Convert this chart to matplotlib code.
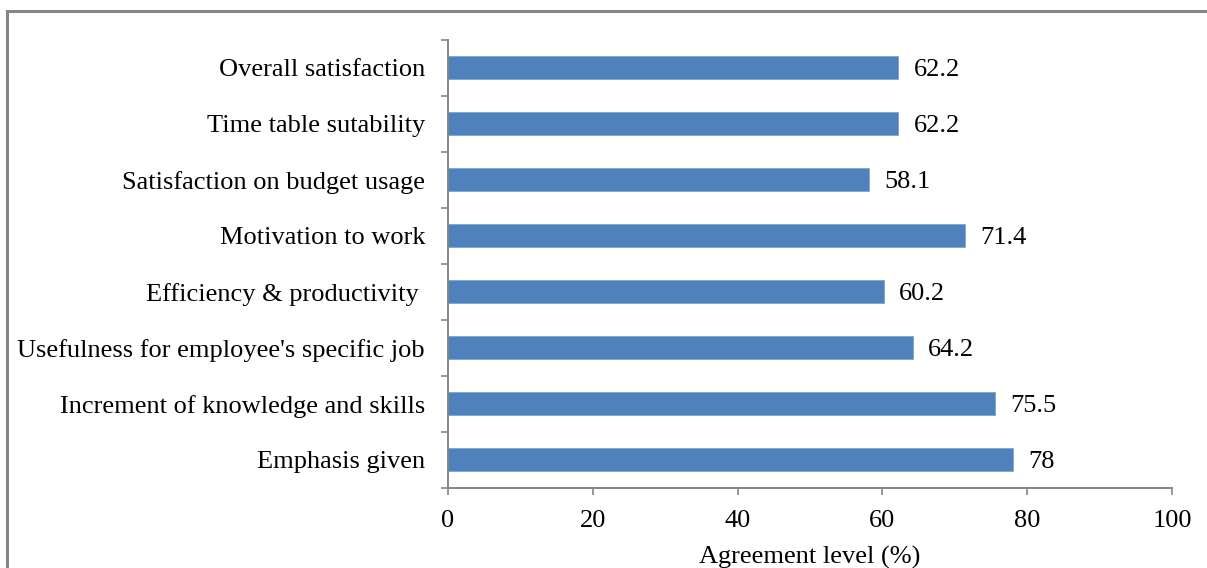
import matplotlib
matplotlib.use("Agg")
import matplotlib.pyplot as plt
import numpy as np
from matplotlib.patches import Rectangle

# Data (top to bottom as shown in the chart)
categories = ['Overall satisfaction', 'Time table sutability', 'Satisfaction on budget usage',
              'Motivation to work', 'Efficiency & productivity ', "Usefulness for employee's specific job",
              'Increment of knowledge and skills', 'Emphasis given']
values = [62.2, 62.2, 58.1, 71.4, 60.2, 64.2, 75.5, 78]
value_labels = ['62.2', '62.2', '58.1', '71.4', '60.2', '64.2', '75.5', '78']
x_ticks = [0, 20, 40, 60, 80, 100]

plt.rcParams['font.family'] = ['Liberation Serif', 'DejaVu Serif']
plt.rcParams['font.size'] = 19

W, H = 1207, 568
fig = plt.figure(figsize=(W / 100, H / 100), dpi=100)
ax = fig.add_axes([448 / W, (H - 488) / H, (1172 - 448) / W, (488 - 39.5) / H])

grey = '#868686'
y = np.arange(len(categories))[::-1]
bars = ax.barh(y, values, height=0.41, color='#4F81BD', edgecolor='#7FA3D0', linewidth=0.6)

# value labels
for rect, lab in zip(bars, value_labels):
    ax.annotate(lab, xy=(rect.get_width(), rect.get_y() + rect.get_height() / 2),
                xytext=(11, -1.5), textcoords='offset points', ha='left', va='center')

ax.set_xlim(0, 100)
ax.set_ylim(-0.5, len(categories) - 0.5)
ax.set_xticks(x_ticks)
ax.set_xticklabels([str(t) for t in x_ticks])
ax.set_yticks(y)
ax.set_yticklabels(categories)
ax.set_yticks(np.arange(-0.5, len(categories)), minor=True)

ax.tick_params(axis='y', which='major', length=0, pad=16.5)
ax.tick_params(axis='y', which='minor', length=5, width=1.2, color=grey, direction='out')
ax.tick_params(axis='x', which='major', length=5, width=1.2, color=grey, direction='out', pad=11)

for s in ['top', 'right']:
    ax.spines[s].set_visible(False)
for s in ['left', 'bottom']:
    ax.spines[s].set_color(grey)
    ax.spines[s].set_linewidth(1.4)

ax.set_xlabel('Agreement level (%)', labelpad=10)

# outer chart frame (cut off at right and bottom)
fig.patches.append(Rectangle((7 / W, -0.1), 1.2, (H - 11) / H + 0.1, transform=fig.transFigure,
                             fill=False, edgecolor=grey, linewidth=2.2))

fig.savefig('out.png', dpi=100)
